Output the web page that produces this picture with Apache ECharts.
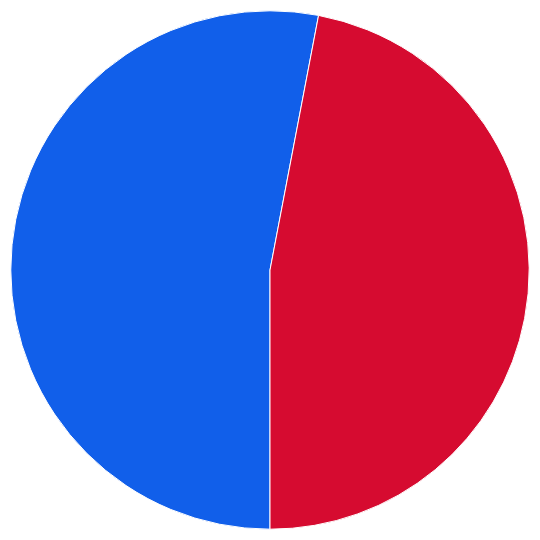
<!DOCTYPE html>
<html><head><meta charset="utf-8">
<script src="https://cdn.jsdelivr.net/npm/echarts@6/dist/echarts.min.js"></script>
<style>html,body{margin:0;padding:0;background:#fff}#c{width:540px;height:540px}</style>
</head><body><div id="c"></div>
<script>
const categories = ['Blue', 'Red'];
const values = [53.0, 47.0];
const colors = ['#115FEA', '#D60B30'];
const chart = echarts.init(document.getElementById('c'), null, {renderer: 'canvas'});
chart.setOption({
  animation: false,
  series: [{
    type: 'pie',
    center: ['50%', '50%'],
    radius: ['0%', '96%'],
    startAngle: -90,
    clockwise: true,
    label: {show: false},
    labelLine: {show: false},
    itemStyle: {borderColor: '#ffffff', borderWidth: 1},
    data: categories.map((n, i) => ({name: n, value: values[i], itemStyle: {color: colors[i]}}))
  }]
});
</script></body></html>
